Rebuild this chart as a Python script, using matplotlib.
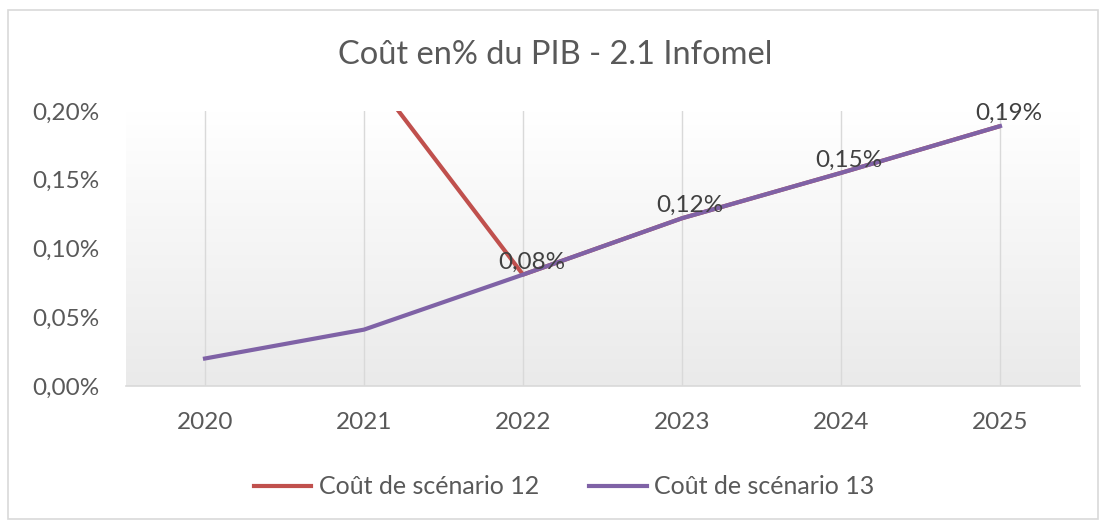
import numpy as np
import matplotlib.pyplot as plt
from matplotlib.patches import Rectangle
from matplotlib.lines import Line2D
from matplotlib.colors import LinearSegmentedColormap
from matplotlib.ticker import FuncFormatter

plt.rcParams['font.family'] = ['Lato', 'DejaVu Sans']

years = ['2020', '2021', '2022', '2023', '2024', '2025']
scen12 = [np.nan, 0.233, 0.081, 0.122, 0.155, 0.189]   # % of GDP
scen13 = [0.020, 0.041, 0.081, 0.122, 0.155, 0.189]
labels12 = [None, None, '0,08%', '0,12%', '0,15%', '0,19%']
title = 'Coût en% du PIB - 2.1 Infomel'
series_names = ['Coût de scénario 12', 'Coût de scénario 13']
yticks = [0.00, 0.05, 0.10, 0.15, 0.20]

red = '#C0504D'
purple = '#7F62A6'
txt = '#595959'

fig = plt.figure(figsize=(11.04, 5.27), dpi=100)
fig.patch.set_facecolor('white')
fig.patches.append(Rectangle((8/1104, 8/527), 1090/1104, 509/527, transform=fig.transFigure,
                             fill=False, edgecolor='#d9d9d9', linewidth=1.2))

ax = fig.add_axes([125.5/1104, 1-386/527, (1079.5-125.5)/1104, (386-111)/527])
x = np.arange(len(years))
ax.set_xlim(-0.5, len(years) - 0.5)
ax.set_ylim(0, 0.20)

# gradient background
grad = np.linspace(0, 1, 256).reshape(-1, 1)
ax.imshow(grad, extent=[0, 1, 0, 1], transform=ax.transAxes, aspect='auto',
          cmap=LinearSegmentedColormap.from_list('g', ['#eaeaea', '#ffffff']),
          origin='lower', zorder=0)

for xi in x:
    ax.axvline(xi, color='#d9d9d9', linewidth=1.0, zorder=1)

ax.plot(x, scen12, color=red, linewidth=3, zorder=3, solid_capstyle='butt')
ax.plot(x, scen13, color=purple, linewidth=3, zorder=4)

for xi, v, lab in zip(x, scen12, labels12):
    if lab:
        ax.annotate(lab, (xi, v), xytext=(6, 9), textcoords='offset points',
                    ha='center', va='center', fontsize=17.5, color='#404040', zorder=5)

for s in ['top', 'right', 'left']:
    ax.spines[s].set_visible(False)
ax.spines['bottom'].set_color('#d9d9d9')
ax.spines['bottom'].set_linewidth(1.2)

ax.set_xticks(x)
ax.set_xticklabels(years)
ax.set_yticks(yticks)
ax.yaxis.set_major_formatter(FuncFormatter(lambda v, p: f'{v:.2f}%'.replace('.', ',')))
ax.tick_params(axis='both', length=0, labelsize=17.5, colors=txt)
ax.tick_params(axis='x', pad=19)
ax.tick_params(axis='y', pad=19)

fig.text(555/1104, 1-55/527, title, ha='center', va='center', fontsize=23.5, color=txt)

handles = [Line2D([], [], color=red, linewidth=3), Line2D([], [], color=purple, linewidth=3)]
fig.legend(handles, series_names, loc='center', bbox_to_anchor=(564/1104, 1-487/527), ncol=2,
           frameon=False, fontsize=18, labelcolor=txt, handlelength=2.3, handletextpad=0.3,
           columnspacing=2.0)

fig.savefig('out.png', dpi=100)
